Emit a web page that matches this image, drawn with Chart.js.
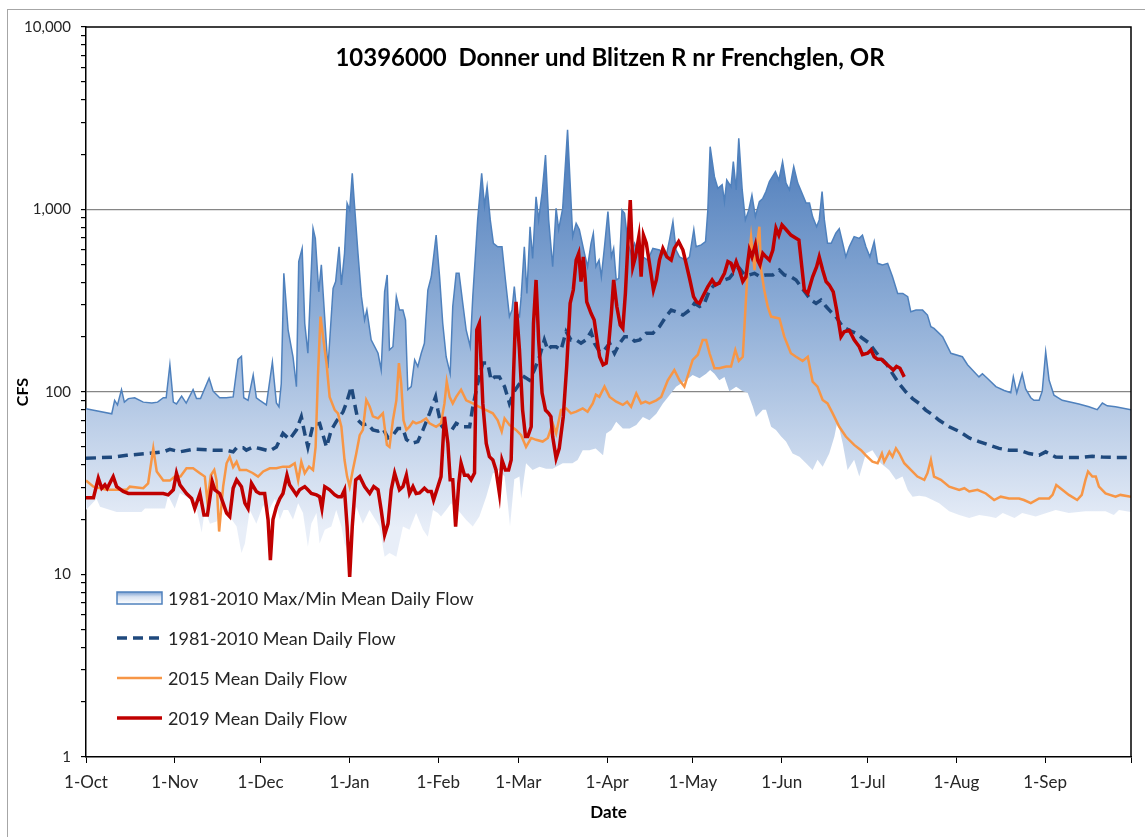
<!DOCTYPE html>
<html>
<head>
<meta charset="utf-8">
<script src="https://cdn.jsdelivr.net/npm/chart.js@4.4.0/dist/chart.umd.min.js"></script>
<style>
  html, body { margin: 0; padding: 0; background: #fff; }
</style>
</head>
<body>
<canvas id="flowChart" width="1145" height="837"></canvas>
<script>
// axe des x : jours depuis le 1er octobre
const monthDays = [0, 31, 61, 92, 123, 151, 182, 212, 243, 273, 304, 335, 365];
const monthLabels = ["1-Oct", "1-Nov", "1-Dec", "1-Jan", "1-Feb", "1-Mar", "1-Apr", "1-May", "1-Jun", "1-Jul", "1-Aug", "1-Sep", ""];
const decades = [1, 10, 100, 1000];
const decadeSteps = [1, 2, 3, 4, 5, 6, 7, 8, 9];
const gridValues = [100, 1000];

// [jour, CFS]
const maxFlow = [[0,81],[9,76],[10,90],[11,85],[12.4,103],[13.4,88],[14.8,92],[17,93],[20,88],[23,87],[25,88],[27,93],[28,93],[29.3,141],[30.5,88],[31.6,86],[33.4,95],[35,87],[37.4,103],[38.6,92],[40,92],[43,119],[44.4,101],[46.7,93],[49,93],[51.4,94],[53.1,151],[54.3,157],[55.1,93],[56.6,90],[58.4,124],[59.5,93],[60.7,90],[63,85],[65.1,146],[66.5,87],[67.4,83],[68.2,111],[69.1,447],[70.6,218],[72.3,156],[73.5,107],[74.3,518],[75.5,612],[76.4,238],[77.5,163],[79.3,789],[80.1,695],[81.3,354],[82.2,497],[84.5,135],[86.3,370],[87.2,403],[88.4,625],[89.2,386],[90.3,575],[91.2,1081],[92.1,994],[93,1578],[93.8,1049],[95,575],[96.2,333],[97.3,248],[98.1,281],[99.6,193],[102,163],[103.1,132],[104.3,354],[105.2,438],[106,170],[107.2,177],[108.4,333],[109.5,281],[110.7,281],[111.6,248],[112.4,103],[113.6,107],[114.8,150],[115.9,138],[117.1,163],[118.2,185],[119.4,362],[120.6,428],[122.3,724],[123.5,428],[124.6,238],[125.8,156],[127.2,126],[128.1,294],[129.3,447],[130.3,447],[131.6,306],[132.8,218],[134.2,177],[135.1,333],[136.8,877],[138.2,1578],[139.2,1049],[140.1,1334],[141.2,877],[142.3,653],[143.8,625],[145.3,625],[146.5,411],[147.9,259],[148.8,281],[149.6,378],[150.5,270],[151.4,259],[152,333],[153.1,625],[154,347],[155.1,805],[156,540],[157.2,1175],[158.1,877],[159.3,1228],[160.5,1990],[161.6,877],[163,486],[164.2,1014],[165.1,777],[166.5,1014],[168.2,2730],[170,710],[171.2,839],[172.3,777],[174.1,575],[175.2,486],[176.4,653],[177.2,741],[178.1,486],[179.2,528],[180,428],[181.1,625],[182.3,973],[183.5,550],[184.3,612],[185.2,411],[186.1,420],[187.2,994],[188.1,953],[189.3,653],[190.4,575],[191.6,653],[192.8,575],[194.5,550],[196.2,528],[198,612],[200.3,600],[202.6,550],[203.8,680],[205,858],[206.1,600],[207.3,550],[209.6,528],[210.8,550],[212.3,777],[213.1,625],[214.9,640],[216.4,667],[217.2,994],[218,2208],[219.5,1514],[220.7,1306],[222.2,1367],[223,1104],[223.8,1450],[225.3,1334],[226.1,1829],[227.1,1280],[228,2455],[229.2,1280],[230.3,877],[231.5,994],[232.6,1200],[233.8,917],[235.2,1104],[236.4,1150],[237.5,1256],[238.7,1422],[240.8,1611],[242,1450],[243.3,1829],[244.5,1396],[245.7,1280],[247.2,1718],[248.6,1396],[250.1,1228],[251.5,1086],[252.7,1086],[253.8,912],[255.2,805],[256.1,877],[257.1,1253],[257.9,877],[259,653],[260.3,653],[261.9,741],[263.1,785],[264.3,653],[265.4,550],[266.6,625],[268.3,710],[270.1,695],[271.2,724],[272.4,625],[273.8,550],[275.3,667],[276.5,507],[278.2,497],[280,507],[281.7,428],[283.5,347],[285.3,347],[287,333],[288.1,275],[289.9,281],[292.2,281],[293.9,264],[295.1,228],[296.2,223],[299.2,201],[302.1,163],[306.1,156],[307.9,141],[311.9,121],[313.1,126],[314.8,119],[317.8,107],[320.7,102],[323,99],[323.9,121],[325.1,99],[327,126],[328.2,104],[330,93],[331.1,90],[332.9,90],[334,101],[335.2,166],[336.4,116],[338.1,96],[341,90],[346.8,86],[350.3,83],[353.2,80],[355,87],[356.7,84],[359.6,83],[365,80]];

const minFlow = [[0,22.6],[3.7,26],[4.9,23.5],[10.7,22],[19.4,22],[20.6,23],[27.6,23],[28.7,27],[31,23],[32.8,28],[36.3,26],[38.6,23],[40.4,17],[41.5,22.6],[43.3,19],[45.6,19.5],[47.9,25.5],[50.2,20.8],[52.6,18.3],[54.3,13.1],[55.5,14.8],[57.2,22.6],[59.5,19],[61.9,24],[63.5,22],[66,26],[67.7,20],[69,22.6],[70.6,22.6],[72.3,20],[74.1,24.6],[75.8,21.7],[77.5,14.2],[78.7,19],[80.5,21.7],[81.6,14.8],[83.4,17.6],[85.7,18.3],[87.4,22.6],[89.2,18.3],[90.3,14.8],[92,13],[94.4,23.5],[96.7,19],[99,22.6],[102.5,18.3],[104.3,12.5],[106,13.1],[108.4,12.5],[110.7,18.3],[113,17.6],[115.3,21.7],[117.7,17.6],[119.4,16.1],[121.2,22.6],[122.9,21.7],[124,20.8],[125.8,22.6],[127.5,24.6],[129.9,22.6],[132.8,19.9],[135.1,18.3],[137.4,20.8],[139.8,26.7],[142.1,35.8],[144.4,37.4],[146.2,34.4],[147.3,24.6],[148.1,18.3],[149.6,33.3],[151.4,34.4],[152,26.1],[153.7,40.7],[156,37.4],[158.4,39],[160.7,38],[163,38],[166.5,40.7],[169.9,40.7],[171.7,42.4],[173.5,48],[175.8,48],[178,49],[180.6,45],[181.7,59.3],[183.5,62],[185.2,68.8],[187.5,63],[189.9,63],[192.2,66],[194.5,73],[196.8,70],[199.2,76],[201.5,86.6],[203.8,96],[206.1,107],[209.6,116],[211.9,124],[214.3,119],[216.6,126],[218,132],[219.5,126],[221.2,116],[223,121],[224.7,101],[227.1,107],[229.4,101],[231.1,99],[232.9,83],[234,73],[236.4,80],[237.5,80],[239.3,64.5],[241,62],[242.8,57],[244.5,53.5],[246.8,46],[249.2,44.2],[251.5,40.7],[253.8,37.4],[255.5,42.5],[257.3,39],[259.6,46],[261.4,57],[262.5,69.6],[264.3,52.3],[266,37.4],[268.3,42.5],[270.1,34.4],[272.4,46],[274.7,48],[277.6,40.7],[280.5,37.4],[282.9,33],[285.2,34.4],[287,29],[288.7,26.7],[291,27],[293.3,26.7],[295.7,25.6],[298,24.6],[301.5,22.2],[305,21.2],[308.5,20.4],[312,21.2],[315.4,20.8],[317.8,20.4],[320.2,21.7],[324.3,20.4],[327,21.7],[331.7,20.8],[338.7,22.6],[343.3,21.7],[349.1,22.2],[356.1,22.2],[359,21.2],[360.8,22.6],[365,22]];

const meanFlow = [[0,43.3],[9.5,44],[14.2,45],[21.2,46],[27,47],[29.3,48.5],[32.8,47],[37.4,48.6],[44.4,48],[49.1,48],[51.4,47],[52.6,49.5],[54.9,49.5],[56,48],[58.4,50],[60.7,49],[64.2,47.5],[66.5,50],[68.8,59.3],[71.1,55],[73.5,62],[75.2,73.2],[76.4,59.3],[77.5,50],[79.3,66],[81.6,67.3],[82.8,58],[84,50],[85.7,62],[87.4,68.8],[89.8,78],[90.9,86.6],[92.7,107],[93.8,86.6],[95,70],[96.7,66],[98.4,67],[100.2,62],[102,61],[103.7,63],[105.5,56],[107.2,58],[108.9,63],[110.7,63],[111.9,55],[113.6,52.3],[115.9,53.5],[117.7,62],[120,76.4],[122.1,94],[122.9,79.6],[124,66],[125.8,60.8],[127.5,61],[129.3,67.3],[131.6,64.5],[134,64.5],[135.1,83],[136.8,111],[138.6,144],[140.3,144],[141.5,116],[142.7,121],[144.4,121],[146.2,107],[147.9,86.6],[149.6,101],[151.4,111],[153.1,121],[154.9,116],[156.6,132],[158.4,156],[160.1,193],[161.3,170],[162.4,177],[164.2,177],[165.9,170],[167.7,214],[169.4,193],[171.2,193],[172.9,185],[174.6,193],[176.4,214],[177.6,185],[179.4,166],[181.1,170],[182.9,185],[184.6,163],[186.4,185],[188.1,201],[189.9,201],[191.6,190],[193.4,193],[195.7,210],[198,210],[200.3,228],[202.6,259],[204.4,281],[206.1,275],[208.5,264],[210.8,281],[212.5,306],[214.3,294],[216,306],[217.8,362],[219.5,386],[221.2,396],[223,411],[224.7,420],[226.5,457],[228.2,477],[230,438],[231.7,438],[233.5,447],[235.2,430],[237.5,438],[239.9,438],[242.2,466],[243.9,438],[246.2,428],[248,411],[249.7,378],[251.5,347],[253.2,319],[255,306],[256.7,319],[258.5,294],[260.2,275],[261.9,259],[264.3,228],[266.6,218],[268.9,210],[271.2,197],[273.6,185],[275.3,170],[277.1,156],[279.4,144],[281.7,126],[284,111],[286.4,100],[288.7,92],[291,86.6],[293.3,79.6],[295.7,75],[298,70],[301.5,64.5],[305,60.8],[308.5,56],[311.9,53.5],[315.4,51.3],[318.9,49.1],[322.4,48],[325.9,48],[329.4,46],[332.9,45],[335.2,47],[338.7,44],[343.3,43.8],[347.4,43.8],[351.5,44.5],[355,44],[359.6,43.8],[365,43.8]];

const flow2015 = [[0,32.7],[2.6,30.3],[7.2,29.1],[14.2,29.1],[15.3,30.3],[20,29.7],[21.7,31.6],[23.5,49],[24.7,36.7],[27,32.7],[29.3,32.7],[31,34.4],[33,34.4],[35.1,38.2],[37.4,38.2],[39.8,35.9],[41.5,34.4],[42.4,25],[43.6,35],[44.8,37.4],[45.6,32.7],[46.5,17.2],[47.9,30.3],[49.1,40.7],[50.2,44.2],[51.4,38.8],[52.6,41.5],[53.7,37.4],[56,37.4],[58.2,36],[60.1,34.4],[61.9,36.7],[64.2,38.2],[66.5,38.2],[68.8,39],[71.1,39],[72.9,40.7],[74.1,32.7],[75.2,41.5],[76.4,35.9],[77.9,39],[79.3,37.4],[80.2,50],[81,121],[81.9,259],[82.8,201],[84,144],[85.1,94],[86.9,79.6],[88,76.4],[89.2,64.5],[90.3,42.4],[91.2,34.4],[92.1,30.3],[93.2,37.4],[94.4,46],[95.6,58],[96.7,62],[97.9,90.4],[99.1,83],[100.2,73.5],[102,71.7],[103.7,76.4],[105.1,51.3],[106,50],[107.2,70],[108.4,90],[109.3,144],[110.1,111],[110.9,70],[111.9,62],[113,64.5],[114.2,68.8],[115.3,67.3],[117.1,68.8],[118.8,71.7],[120,67.3],[122.3,64.5],[124,67.3],[125.2,86.6],[126,114],[127,94],[128.1,86.6],[129.3,94],[131,103],[132.8,90],[135.1,86.6],[137.4,83],[139.8,79.6],[142.1,76.4],[143.8,70],[145.2,60.8],[146.2,71.7],[147.9,66],[150.2,62],[152,58],[153.7,50],[155.5,56],[157.2,54.7],[159.5,53.5],[161.3,56],[163,67.3],[164.2,59.3],[165.9,79.6],[167.7,81.3],[169.4,76.4],[171.2,78],[173.5,81.3],[175.2,78],[177,86.6],[178.1,96.6],[179.3,94],[181.1,107],[182.9,94],[185.2,88.5],[187.5,85],[189,88.5],[190.4,83],[192.2,98.2],[193.9,86.6],[195.4,88.5],[196.8,86.6],[199.2,90],[200.9,94],[203.2,116],[205.5,132],[207.3,116],[209,107],[210.8,132],[211.9,150],[213.7,160],[215.4,193],[216.6,193],[217.8,163],[219.5,135],[221.2,135],[223.6,138],[225.3,138],[226.8,170],[228,148],[229.4,156],[230.3,281],[231.1,466],[232.3,710],[233.5,466],[234.4,653],[235.2,805],[235.8,466],[236.9,362],[238.1,294],[239.3,259],[242.2,253],[243.9,201],[246.2,163],[248,156],[250.3,148],[252.1,156],[253.8,114],[255.5,107],[257.3,90.4],[259,86.6],[260.8,76.4],[263.1,64.5],[265.4,57],[268.3,51.3],[270.7,48],[272.4,45],[274.7,41.5],[276.5,40.7],[278,46],[278.8,41.5],[280.6,47],[281.7,44.2],[282.9,49.1],[284.1,46],[285.8,40.7],[288.1,37.4],[290.4,34.4],[292.8,33],[293.9,35.9],[295.1,42.4],[296.2,34.4],[298.6,33],[301.5,30.3],[305,29.1],[306.8,29.7],[308.5,28.5],[311.4,29.1],[314.3,27.8],[317.2,25.6],[319.5,26.7],[322.4,26.1],[325.9,26.1],[327.6,25.6],[330,24.6],[332.9,26.1],[336.4,26.1],[337.6,27.3],[338.9,30.9],[341,29.1],[343.3,27.3],[346.2,25.6],[347.8,27.3],[349.1,33],[350,36.7],[351.5,34.4],[352.7,34.4],[353.8,30.3],[356.1,27.8],[359.6,26.7],[361.3,27.3],[365,26.7]];

const flow2019 = [[0,26.3],[2.6,26.3],[4.3,33.7],[5.5,29.7],[6.6,31],[7.4,29.7],[9.5,34.4],[10.7,30.3],[13,28.5],[14.8,27.8],[27,27.8],[28.7,27.3],[30.5,29.1],[31.6,35.9],[32.8,31],[35.1,27.8],[36.9,26.1],[38,23],[39.8,27.8],[41.2,21.2],[42.4,21.2],[44.1,32.2],[45,29.1],[46.7,27.8],[47.9,24.6],[49.1,21.7],[50.2,20.8],[51.4,29.7],[52.6,33],[54.3,30.3],[55.5,24.6],[56.6,23],[57.8,31.6],[59.5,28.5],[60.7,27.8],[62.4,27.8],[63.6,19.9],[64.4,12],[65.3,20],[66.5,23.5],[67.7,26.1],[68.8,27.8],[70.2,35],[71.1,31],[72.3,29.1],[73.5,27.3],[74.6,29.1],[76.4,30.3],[77.5,29.1],[78.7,27.8],[80.5,27.3],[81.6,26.7],[82.4,23],[83.4,30.3],[85.1,29.1],[86.9,27.3],[88,26.7],[89.2,26.7],[90.3,29.1],[91.2,18.3],[92.1,9.7],[93,18.3],[94.2,33],[95.6,34.4],[97.3,30.3],[99.1,27.8],[100.5,30.3],[102,29.1],[103.1,22.6],[104.3,16.5],[105.5,19],[106.6,29.1],[107.8,35.9],[109.5,29.1],[110.7,30.3],[111.9,35],[113,27.8],[114.2,30.3],[115.3,27.8],[116.5,28],[118.2,29.7],[119.4,28.5],[120.6,28.5],[121.4,25.6],[122.9,30.3],[124,34.4],[125.2,73.2],[126.4,52.3],[127.2,33],[128.1,33],[129.1,18.3],[130.2,31.6],[131,40.7],[132.2,35],[133.4,35],[134.5,33],[135.7,36],[136.5,219],[137.4,238],[138.6,86.6],[139.8,52.3],[140.9,44.2],[142.1,42.4],[143.2,37.4],[144.4,27.8],[145.3,42.4],[146.5,37.4],[147.6,37.4],[148.5,42.4],[149.3,121],[150.2,312],[151.4,170],[152.5,79.6],[153.5,57],[154.3,57],[155.5,64.5],[156.3,238],[157.2,411],[158.1,193],[159.3,98.6],[160.5,79.6],[161.6,76.4],[162.4,73.2],[163,57],[164.2,43.3],[165.3,49.1],[166.7,73.2],[167.9,138],[169.1,306],[170.2,362],[171.2,528],[172.1,575],[172.9,403],[173.7,550],[174.4,411],[174.9,312],[176.4,270],[177.5,248],[178.5,193],[179.4,156],[180.6,141],[181.7,144],[182.6,185],[183.5,270],[184.3,411],[185.4,294],[186.6,233],[187.5,223],[188.4,347],[189.3,653],[190.1,1127],[191,486],[191.9,550],[193.1,710],[193.9,428],[194.7,724],[195.7,653],[196.8,507],[198.2,362],[199.2,411],[200.3,528],[201.5,612],[202.9,550],[204.4,528],[205.5,612],[207,667],[208.5,600],[209.6,507],[210.8,420],[212.2,333],[213.3,312],[214.3,306],[215.4,333],[217.2,378],[218.7,411],[219.9,386],[221.2,396],[223,447],[224.2,518],[225.3,507],[226.1,466],[227.1,518],[228.2,466],[229.4,403],[230.5,428],[231.7,600],[232.6,550],[233.8,640],[234.6,528],[235.4,497],[236.4,575],[237.5,550],[238.7,528],[239.9,600],[241,789],[242,724],[243.1,822],[244.5,777],[246.2,724],[248,695],[249,680],[249.7,540],[250.9,362],[252.1,347],[253.8,428],[255.2,486],[256.1,550],[257.3,466],[258.5,403],[259.6,386],[261,354],[262.2,281],[263.7,201],[264.8,214],[266.6,218],[268.3,193],[270.1,177],[271.2,160],[273,163],[274.2,170],[275.3,156],[276.5,151],[277.8,151],[279.2,144],[280.6,138],[282,132],[283.1,138],[284.3,135],[285.8,121]];

const chartTitle = "10396000  Donner und Blitzen R nr Frenchglen, OR";
const legendLabels = ["1981-2010 Max/Min Mean Daily Flow", "1981-2010 Mean Daily Flow", "2015 Mean Daily Flow", "2019 Mean Daily Flow"];

const FONT = "Lato, 'Liberation Sans', sans-serif";
const toPoints = (pairs) => pairs.map(p => ({ x: p[0], y: p[1] }));

// ticks du log : 1..9 par décade
const yTickValues = [];
decades.forEach(d => decadeSteps.forEach(s => yTickValues.push(d * s)));
yTickValues.push(10000);

function bandFill(context) {
    const chart = context.chart;
    const { ctx, chartArea, scales } = chart;
    if (!chartArea) return "rgba(79,129,189,0.5)";
    const y = scales.y;
    const g = ctx.createLinearGradient(0, y.getPixelForValue(2800), 0, y.getPixelForValue(18));
    g.addColorStop(0, "rgb(72,120,184)");
    g.addColorStop(0.45, "rgb(140,172,214)");
    g.addColorStop(1, "rgb(232,238,248)");
    return g;
}

// cadre, titre et légende dessinés à la main
const decorPlugin = {
    id: "decor",
    beforeDraw(chart) {
        const c = chart.ctx;
        c.save();
        c.fillStyle = "#fff";
        c.fillRect(0, 0, chart.width, chart.height);
        c.strokeStyle = "#a6a6a6";
        c.lineWidth = 1;
        c.strokeRect(7.5, 9.5, chart.width + 20, chart.height + 20);
        c.restore();
    },
    afterDatasetsDraw(chart) {
        const c = chart.ctx;
        const a = chart.chartArea;
        c.save();
        // bord haut et droit de la zone de tracé
        c.strokeStyle = "#000";
        c.lineWidth = 1.5;
        c.beginPath();
        c.moveTo(a.left, a.top);
        c.lineTo(a.right, a.top);
        c.lineTo(a.right, a.bottom);
        c.stroke();

        c.fillStyle = "#000";
        c.font = "bold 24px " + FONT;
        c.textAlign = "center";
        c.textBaseline = "middle";
        c.fillText(chartTitle, 610, 58);

        // légende
        const x0 = 117, x1 = 162;
        const rows = [598, 638, 678, 718];
        const ds = chart.data.datasets;
        c.font = "18px " + FONT;
        c.textAlign = "left";
        rows.forEach((yy, i) => {
            if (i === 0) {
                const g = c.createLinearGradient(0, yy - 6, 0, yy + 6);
                g.addColorStop(0, "rgb(120,158,208)");
                g.addColorStop(0.4, "rgb(215,226,242)");
                g.addColorStop(1, "#fff");
                c.fillStyle = g;
                c.fillRect(x0, yy - 6, x1 - x0, 12);
                c.strokeStyle = "#4F81BD";
                c.lineWidth = 1.5;
                c.setLineDash([]);
                c.strokeRect(x0, yy - 6, x1 - x0, 12);
            } else {
                const d = ds[i + 1];
                c.strokeStyle = d.borderColor;
                c.lineWidth = d.borderWidth;
                c.setLineDash(d.borderDash || []);
                c.beginPath();
                c.moveTo(x0, yy);
                c.lineTo(x1, yy);
                c.stroke();
                c.setLineDash([]);
            }
            c.fillStyle = "#262626";
            c.fillText(legendLabels[i], 168, yy + 1);
        });
        c.restore();
    }
};

new Chart(document.getElementById("flowChart"), {
    type: "line",
    data: {
        datasets: [
            {
                label: legendLabels[0],
                data: toPoints(maxFlow),
                borderColor: "#4F81BD",
                borderWidth: 1.5,
                backgroundColor: bandFill,
                fill: "+1",
                pointRadius: 0,
                order: 5
            },
            {
                label: "min",
                data: toPoints(minFlow),
                borderColor: "rgba(0,0,0,0)",
                borderWidth: 0,
                pointRadius: 0,
                fill: false,
                order: 6
            },
            {
                label: legendLabels[1],
                data: toPoints(meanFlow),
                borderColor: "#1F497D",
                borderWidth: 3.5,
                borderDash: [10, 6],
                pointRadius: 0,
                fill: false,
                order: 3
            },
            {
                label: legendLabels[2],
                data: toPoints(flow2015),
                borderColor: "#F79646",
                borderWidth: 2.5,
                pointRadius: 0,
                fill: false,
                order: 2
            },
            {
                label: legendLabels[3],
                data: toPoints(flow2019),
                borderColor: "#C00000",
                borderWidth: 3.5,
                pointRadius: 0,
                fill: false,
                order: 1
            }
        ]
    },
    options: {
        responsive: false,
        animation: false,
        layout: { padding: { left: 0, top: 27, right: 14, bottom: 0 } },
        plugins: {
            legend: { display: false },
            tooltip: { enabled: false }
        },
        scales: {
            x: {
                type: "linear",
                min: 0,
                max: 365,
                afterBuildTicks: (s) => { s.ticks = monthDays.map(v => ({ value: v })); },
                afterFit: (s) => { s.height = 80; },
                ticks: {
                    autoSkip: false,
                    maxRotation: 0,
                    padding: 9,
                    color: "#262626",
                    font: { family: FONT, size: 17 },
                    callback: (v, i) => monthLabels[i]
                },
                grid: { drawOnChartArea: false, color: "#000", tickLength: 6 },
                border: { color: "#000", width: 1.5 },
                title: {
                    display: true,
                    text: "Date",
                    color: "#000",
                    font: { family: FONT, size: 17, weight: "bold" },
                    padding: { top: 0, bottom: 14 }
                }
            },
            y: {
                type: "logarithmic",
                min: 1,
                max: 10000,
                afterBuildTicks: (s) => { s.ticks = yTickValues.map(v => ({ value: v })); },
                afterFit: (s) => { s.width = 86; },
                ticks: {
                    autoSkip: false,
                    padding: 10,
                    color: "#262626",
                    font: { family: FONT, size: 15 },
                    callback: (v) => {
                        const k = Math.log10(v);
                        return Math.abs(k - Math.round(k)) < 1e-9 ? v.toLocaleString("en-US") : "";
                    }
                },
                grid: {
                    color: (ctx) => (ctx.tick && gridValues.includes(ctx.tick.value)) ? "#868686" : "rgba(0,0,0,0)",
                    tickColor: "#000",
                    tickLength: 5,
                    lineWidth: 1.2
                },
                border: { color: "#000", width: 1.5 },
                title: {
                    display: true,
                    text: "CFS",
                    color: "#000",
                    font: { family: FONT, size: 16, weight: "bold" },
                    padding: { top: 13, bottom: 0 }
                }
            }
        }
    },
    plugins: [decorPlugin]
});
</script>
</body>
</html>
